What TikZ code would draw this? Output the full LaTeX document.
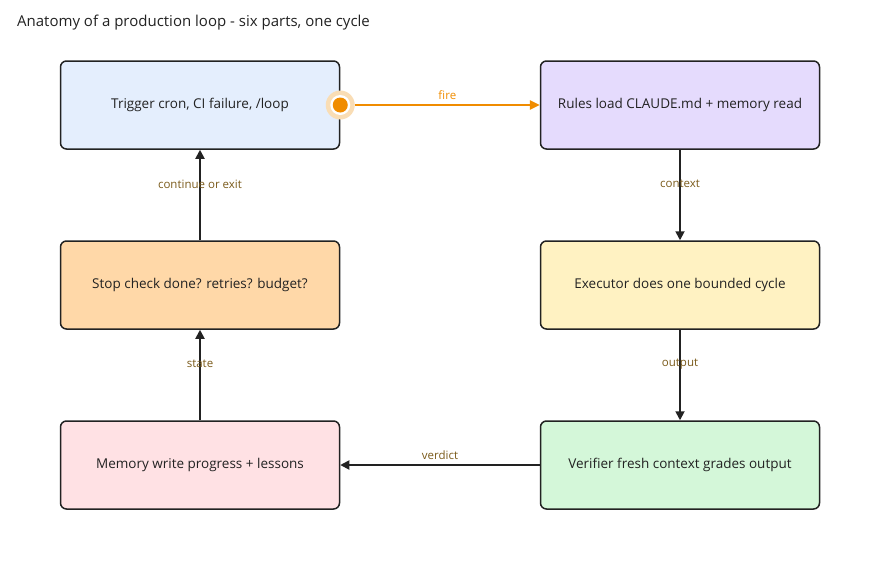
\documentclass[tikz,border=0pt]{standalone}
\usepackage{fontspec}
\setmainfont{Open Sans}
\usetikzlibrary{arrows.meta}
\definecolor{edgec}{HTML}{222222}
\definecolor{lblc}{HTML}{7A5A1A}
\definecolor{firec}{HTML}{F08C00}
\definecolor{firelite}{HTML}{F9DDB5}
\definecolor{cblue}{HTML}{E4EEFD}
\definecolor{cpurple}{HTML}{E5DBFD}
\definecolor{cyellow}{HTML}{FFF2C2}
\definecolor{cgreen}{HTML}{D4F7D9}
\definecolor{cpink}{HTML}{FFE1E4}
\definecolor{corange}{HTML}{FFD8A8}
\tikzset{
  stagebox/.style={draw=edgec, line width=1.5pt, rounded corners=6pt,
    minimum width=279pt, minimum height=88pt, inner sep=0pt,
    font=\fontsize{13.5}{16}\selectfont, text=edgec},
  flow/.style={draw=edgec, line width=1.8pt, -{Triangle[length=9pt,width=9pt]}},
  firelink/.style={draw=firec, line width=2.4pt, -{Triangle[length=10pt,width=9pt]}},
  lbl/.style={font=\fontsize{11.5}{13}\selectfont, text=lblc, inner sep=1pt}
}
\begin{document}
\begin{tikzpicture}[x=1pt,y=-1pt]
\useasboundingbox (0,0) rectangle (880,560);
\node[anchor=base west, font=\fontsize{15}{18}\selectfont, text=edgec, inner sep=0pt] (title) at (17,26) {Anatomy of a production loop - six parts, one cycle};

\node[stagebox, fill=cblue] (trig) at (200,105) {Trigger cron, CI failure, /loop};
\node[stagebox, fill=cpurple] (rules) at (680,105) {Rules load CLAUDE.md + memory read};
\node[stagebox, fill=cyellow] (exec) at (680,285) {Executor does one bounded cycle};
\node[stagebox, fill=cgreen] (verif) at (680,465) {Verifier fresh context grades output};
\node[stagebox, fill=cpink] (mem) at (200,465) {Memory write progress + lessons};
\node[stagebox, fill=corange] (stop) at (200,285) {Stop check done? retries? budget?};

\node[circle, fill=firelite, minimum size=29pt, inner sep=0pt] (dotouter) at (trig.east) {};
\node[circle, fill=white, minimum size=20pt, inner sep=0pt] (dotring) at (trig.east) {};
\node[circle, fill=firec, minimum size=15pt, inner sep=0pt] (dot) at (trig.east) {};

\draw[firelink] (dotouter.east) -- (rules.west) node[midway, above=3pt, lbl, text=firec] (lfire) {fire};
\draw[flow] (rules.south) -- (exec.north) node[pos=0.38, lbl] (lctx) {context};
\draw[flow] (exec.south) -- (verif.north) node[pos=0.38, lbl] (lout) {output};
\draw[flow] (verif.west) -- (mem.east) node[midway, above=3pt, lbl] (lver) {verdict};
\draw[flow] (mem.north) -- (stop.south) node[pos=0.62, lbl] (lstate) {state};
\draw[flow] (stop.north) -- (trig.south) node[pos=0.62, lbl] (lcont) {continue or exit};
\end{tikzpicture}
\end{document}
